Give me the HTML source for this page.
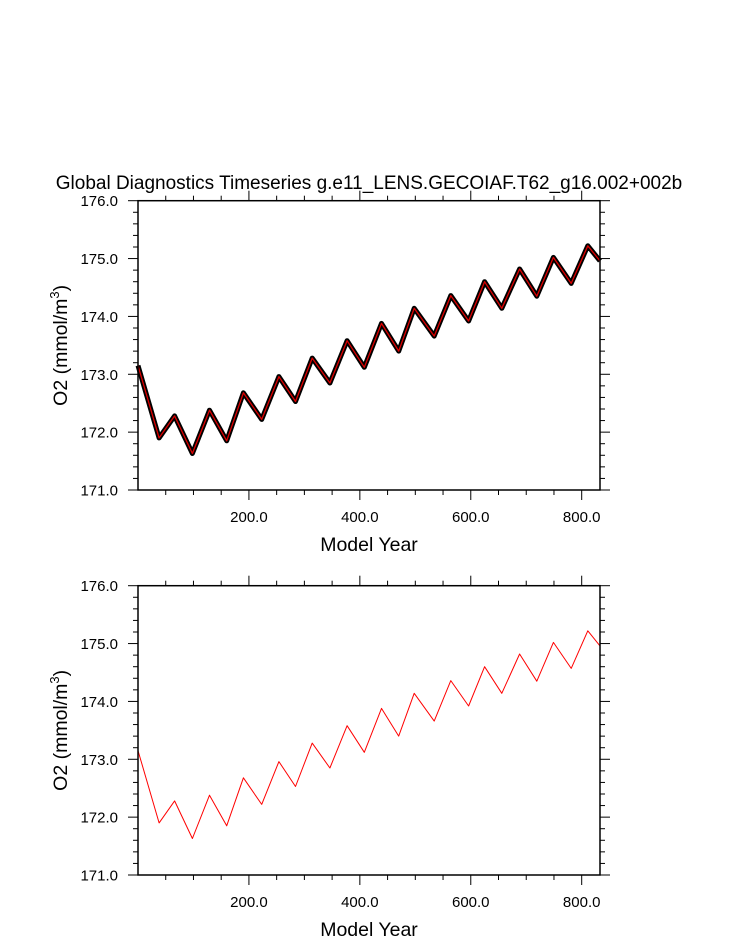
<!DOCTYPE html>
<html><head><meta charset="utf-8">
<style>
body{margin:0;background:#fff;}
svg{display:block;font-family:"Liberation Sans",Arial,sans-serif;}
</style></head>
<body>
<svg id="chart" width="733" height="945" xmlns="http://www.w3.org/2000/svg">
<text x="369" y="189" font-size="19" text-anchor="middle">Global Diagnostics Timeseries g.e11_LENS.GECOIAF.T62_g16.002+002b</text>
</svg>
<script>
const years = [0, 38, 66, 98, 129, 160, 190, 223, 254, 284, 314, 346, 377, 408, 439, 470, 498, 534, 564, 596, 625, 656, 688, 719, 749, 781, 811, 833];
const o2Values = [173.15, 171.9, 172.28, 171.63, 172.38, 171.85, 172.68, 172.22, 172.96, 172.53, 173.28, 172.85, 173.58, 173.12, 173.88, 173.4, 174.14, 173.66, 174.36, 173.92, 174.6, 174.14, 174.82, 174.35, 175.02, 174.57, 175.22, 174.96];
const yTicks = [171, 172, 173, 174, 175, 176];
const xTicks = [200, 400, 600, 800];
const xDomain = [0, 833];
const yDomain = [171, 176];

const NS = "http://www.w3.org/2000/svg";
const svg = document.getElementById('chart');
function mk(tag, attrs, parent){const e=document.createElementNS(NS,tag);for(const k in attrs)e.setAttribute(k,attrs[k]);(parent||svg).appendChild(e);return e;}

function panel(top, bottom, withBand, idx){
  const L=138, R=600;
  const g = mk('g',{});
  
  
  const xs = v => L + (v - xDomain[0]) / (xDomain[1]-xDomain[0]) * (R-L);
  const ys = v => bottom - (v - yDomain[0]) / (yDomain[1]-yDomain[0]) * (bottom-top);
  const pts = years.map((y,i)=>xs(y).toFixed(1)+','+ys(o2Values[i]).toFixed(1)).join(' ');
  if(withBand){
    const band = mk('polyline',{points:pts,fill:'none',stroke:'#000','stroke-width':5,'stroke-linejoin':'round'},g);
    
    
  }
  const line = mk('polyline',{points:pts,fill:'none',stroke: withBand?'#d00':'#f00','stroke-width':withBand?1.3:1,'stroke-linejoin':'round'},g);
  
  
  const frame = mk('rect',{x:L,y:top,width:R-L,height:bottom-top,fill:'none',stroke:'#000','stroke-width':1.5},g);
  
  
  for(let v=171; v<=176.001; v+=0.2){
    const y=ys(v); const major=Math.abs(v-Math.round(v))<0.01; const len=major?10:5;
    mk('line',{x1:L-len,x2:L,y1:y,y2:y,stroke:'#000','stroke-width':1},g);
    mk('line',{x1:R,x2:R+len,y1:y,y2:y,stroke:'#000','stroke-width':1},g);
  }
  yTicks.forEach(v=>{
    const t=mk('text',{x:118,y:ys(v)+5.5,'font-size':15,'text-anchor':'end'},g);
    t.textContent=v.toFixed(1);
    
    
  });
  for(let v=50; v<=833; v+=50){
    const x=xs(v); const major=v%200===0; const len=major?10:5;
    mk('line',{x1:x,x2:x,y1:bottom,y2:bottom+len,stroke:'#000','stroke-width':1},g);
    mk('line',{x1:x,x2:x,y1:top-len,y2:top,stroke:'#000','stroke-width':1},g);
  }
  xTicks.forEach(v=>{
    const t=mk('text',{x:xs(v),y:bottom+32,'font-size':15,'text-anchor':'middle'},g);
    t.textContent=v.toFixed(1);
    
    
  });
  const xt=mk('text',{x:369,y:bottom+61,'font-size':19.5,'text-anchor':'middle'},g);
  xt.textContent='Model Year';
  
  
  const cy=(top+bottom)/2;
  const yt=mk('text',{x:0,y:0,'font-size':19.5,'text-anchor':'middle',transform:`translate(67,${cy}) rotate(-90)`},g);
  yt.innerHTML='O2 (mmol/m<tspan dy="-8" font-size="13">3</tspan><tspan dy="8">)</tspan>';
  
  
}
panel(200.7, 490, true, 'top');
panel(585.7, 875, false, 'bottom');
</script>
</body></html>
